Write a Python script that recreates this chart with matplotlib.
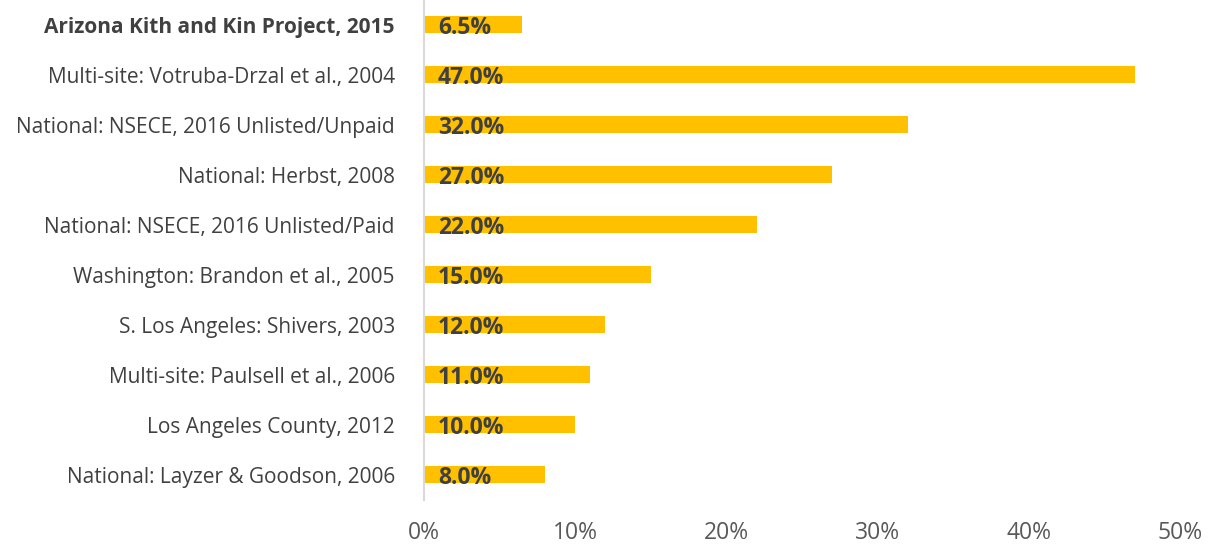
import matplotlib
matplotlib.use("Agg")
import matplotlib.pyplot as plt
from matplotlib.ticker import FuncFormatter

# Data (top to bottom as shown)
studies = [
    "Arizona Kith and Kin Project, 2015",
    "Multi-site: Votruba-Drzal et al., 2004",
    "National: NSECE, 2016 Unlisted/Unpaid",
    "National: Herbst, 2008",
    "National: NSECE, 2016 Unlisted/Paid",
    "Washington: Brandon et al., 2005",
    "S. Los Angeles: Shivers, 2003",
    "Multi-site: Paulsell et al., 2006",
    "Los Angeles County, 2012",
    "National: Layzer & Goodson, 2006",
]
percents = [6.5, 47.0, 32.0, 27.0, 22.0, 15.0, 12.0, 11.0, 10.0, 8.0]
x_ticks = [0, 10, 20, 30, 40, 50]

BAR_COLOR = "#FFC000"
TEXT_COLOR = "#404040"
TICK_COLOR = "#595959"

plt.rcParams["font.family"] = ["Open Sans", "DejaVu Sans"]

fig = plt.figure(figsize=(12.12, 5.47), dpi=100)
ax = fig.add_axes([0.3498, 0.086, 0.6238, 0.914])

positions = list(range(len(studies)))
ax.barh(positions, percents, height=0.34, color=BAR_COLOR)

# value labels at the base of each bar, sitting a little low like Excel does
for pos, val in zip(positions, percents):
    ax.annotate(f"{val:.1f}%", xy=(0, pos), xytext=(10, -2.5),
                textcoords="offset points", ha="left", va="center",
                fontsize=16.5, fontweight="bold", color=TEXT_COLOR)

ax.set_ylim(len(studies) - 0.5, -0.5)
ax.set_xlim(0, 50)
ax.set_yticks(positions)
ax.set_yticklabels(studies, fontsize=15, color=TEXT_COLOR)
ax.get_yticklabels()[0].set_fontweight("bold")
ax.set_xticks(x_ticks)
ax.xaxis.set_major_formatter(FuncFormatter(lambda v, _: f"{v:.0f}%"))
ax.tick_params(axis="x", labelsize=16.5, labelcolor=TICK_COLOR, length=0, pad=15)
ax.tick_params(axis="y", length=0, pad=21)

for side in ["top", "right", "bottom"]:
    ax.spines[side].set_visible(False)
ax.spines["left"].set_color("#D9D9D9")
ax.spines["left"].set_linewidth(1.5)

fig.savefig("out.png", dpi=100)
